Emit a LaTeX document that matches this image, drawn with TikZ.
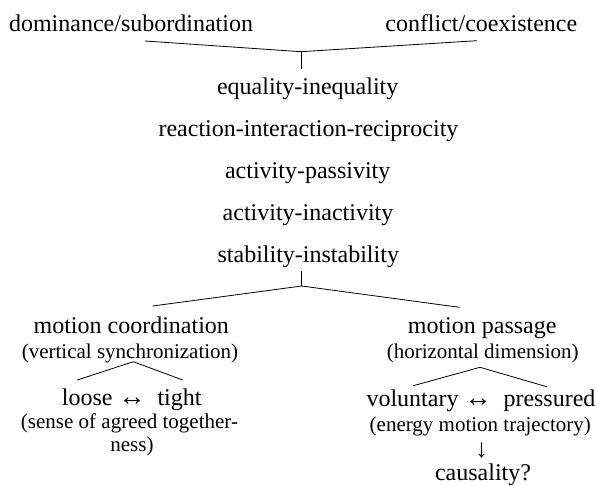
\documentclass[tikz,border=0pt]{standalone}
\usepackage{fontspec}
\setmainfont{Liberation Serif}
\begin{document}
\begin{tikzpicture}[x=1pt,y=-1pt,
  big/.style={font=\fontsize{24}{28}\selectfont, inner sep=0pt, anchor=base},
  small/.style={font=\fontsize{21}{23.4}\selectfont, inner sep=0pt, anchor=base},
  ln/.style={line width=0.8pt, black}]
\useasboundingbox (0,0) rectangle (597,486);
% top level
\node[big] (dom) at (131,31.7) {dominance/subordination};
\node[big] (conf) at (481.3,31.7) {conflict/coexistence};
\node[big] (eq) at (307.7,94.3) {equality-inequality};
\node[big] (re) at (308.5,136.7) {reaction-interaction-reciprocity};
\node[big] (ap) at (307.7,179) {activity-passivity};
\node[big] (ai) at (308,220.7) {activity-inactivity};
\node[big] (si) at (308.3,263) {stability-instability};
% left branch
\node[big] (mc) at (131.3,333.3) {motion coordination};
\node[small] (vs) at (130,358.3) {(vertical synchronization)};
\node[big] (lt) at (131.7,405) {loose {\fontsize{27}{28}\selectfont ↔} \ tight};
\node[small] (se) at (129.5,428.3) {(sense of agreed together-};
\node[small] (ne) at (132,451.7) {ness)};
% right branch
\node[big] (mp) at (482.2,333.3) {motion passage};
\node[small] (hd) at (482.7,358.3) {(horizontal dimension)};
\node[big] (vp) at (481,406.7) {voluntary {\fontsize{27}{28}\selectfont ↔} \ pressured};
\node[small] (em) at (480.3,431) {(energy motion trajectory)};
\node[inner sep=0pt, anchor=center, font=\fontsize{26}{28}\selectfont] (da) at (481.7,450.5) {↓};
\node[big] (ca) at (483,480) {causality?};
% connector points
\coordinate (t1) at (145,41);
\coordinate (t2) at (301,51.7);
\coordinate (t3) at (477,40.7);
\coordinate (t4) at (301,69.3);
\coordinate (s1) at (301.7,270.7);
\coordinate (s2) at (301.7,286);
\coordinate (s3) at (152.7,306);
\coordinate (s4) at (459.3,307.3);
\coordinate (l1) at (133.3,361.7);
\coordinate (l2) at (77.3,380);
\coordinate (l3) at (182.7,380);
\coordinate (r1) at (480,367.3);
\coordinate (r2) at (413.3,385.7);
\coordinate (r3) at (546.7,386.7);
\draw[ln] (t1) -- (t2) -- (t3);
\draw[ln] (t2) -- (t4);
\draw[ln] (s1) -- (s2);
\draw[ln] (s3) -- (s2) -- (s4);
\draw[ln] (l2) -- (l1) -- (l3);
\draw[ln] (r2) -- (r1) -- (r3);
\end{tikzpicture}
\end{document}
